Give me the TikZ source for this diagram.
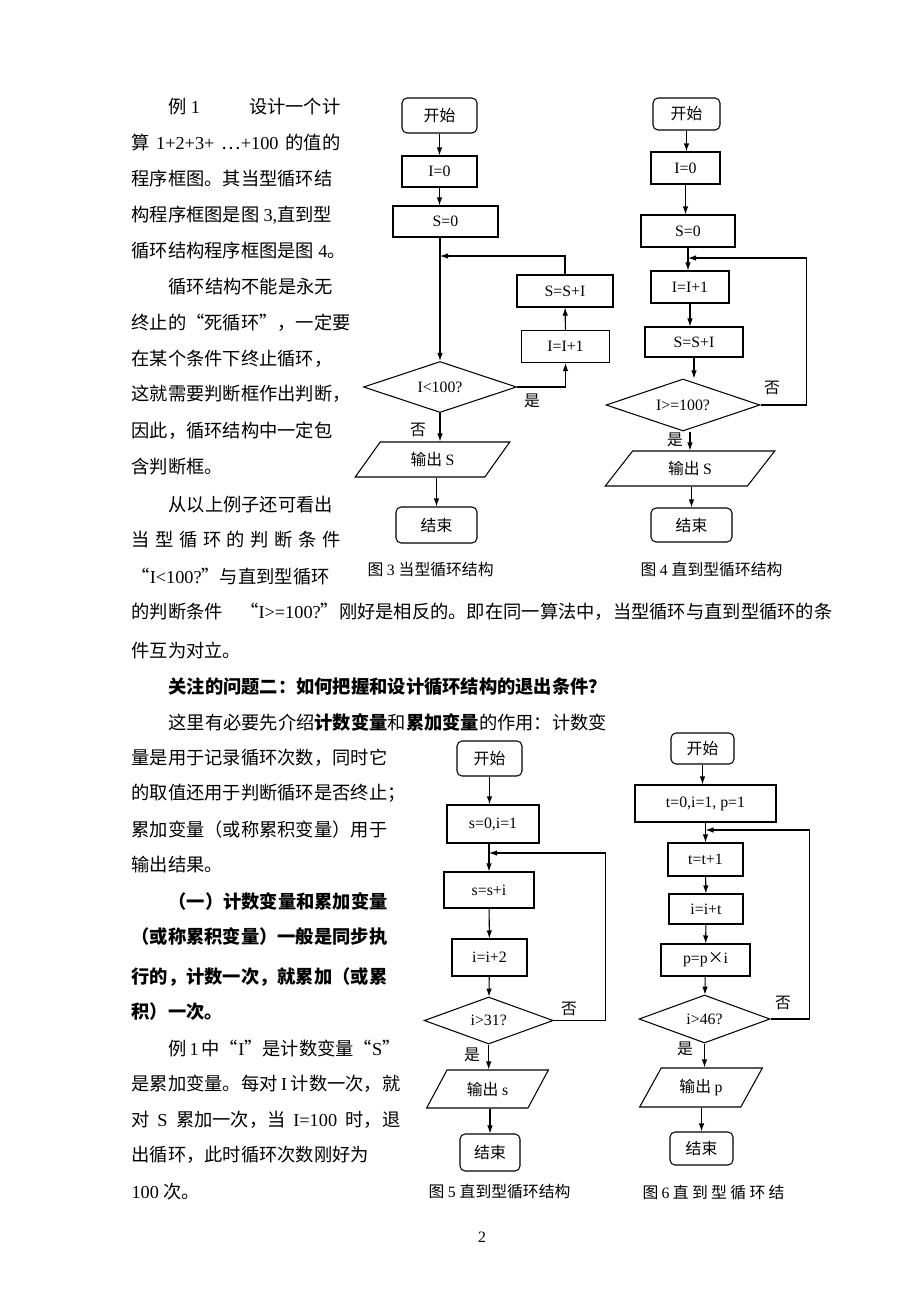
\documentclass[tikz,border=0pt]{standalone}
\usepackage{fontspec}
\setmainfont{Noto Sans CJK SC}
\newfontfamily\cjk{Noto Sans CJK SC}
\newfontfamily\lat{Liberation Serif}
\usetikzlibrary{arrows.meta, shapes.geometric}

% switch between the CJK and the Latin font by character class
\newXeTeXintercharclass\cjkcls
\newcount\cc
\newcommand\cjkrange[2]{\cc=#1 \loop\XeTeXcharclass\cc=\cjkcls\relax\ifnum\cc<#2 \advance\cc by 1 \repeat}
\cjkrange{"4E00}{"9FFF}
\cjkrange{"3000}{"303F}
\cjkrange{"FF00}{"FFEF}
\cjkrange{"2018}{"201D}
\cjkrange{"2026}{"2026}
\cjkrange{"22EF}{"22EF}
\cjkrange{"00D7}{"00D7}
\XeTeXinterchartoks 0 \cjkcls = {\cjk}
\XeTeXinterchartoks 4095 \cjkcls = {\cjk}
\XeTeXinterchartoks \cjkcls 0 = {\lat}
\XeTeXinterchartoks 4095 0 = {\lat}
\XeTeXinterchartokenstate=1
% full-width quotes
\newcommand\qo{\hbox to 1em{\hss “}}
\newcommand\qc{\hbox to 1em{”\hss}}

\begin{document}
\begin{tikzpicture}[x=0.02cm, y=-0.02cm, line width=0.6pt,
  txt/.style={anchor=west, inner sep=0pt, font=\fontsize{10.4pt}{12pt}\selectfont},
  btxt/.style={anchor=west, inner sep=0pt, font=\fontsize{10.4pt}{12pt}\selectfont\bfseries},
  lbl/.style={inner sep=0pt, font=\fontsize{9pt}{10pt}\selectfont},
  proc/.style={draw, rectangle, inner sep=1pt, font=\fontsize{9pt}{10pt}\selectfont},
  term/.style={proc, rounded corners=1mm},
  dec/.style={proc, diamond, aspect=3, inner sep=0pt},
  io/.style={proc, trapezium, trapezium left angle=58, trapezium right angle=122, trapezium stretches=true},
  flow/.style={-{Latex[length=1.6mm,width=1.1mm]}}]
\fill[white] (0,0) rectangle (920,1302);
\useasboundingbox (0,0) rectangle (920,1302);

% text, upper column
\node[txt] (t1) at (168,106.7) {\hbox to 3.44cm{例 1\hfill 设计一个计}};
\node[txt] (t2) at (131,142.3) {\hbox to 4.18cm{算 1+2+3+ ⋯+100 的值的}};
\node[txt] (t3) at (131,178.3) {程序框图。其当型循环结};
\node[txt] (t4) at (131,215) {构程序框图是图 3,直到型};
\node[txt] (t5) at (131,250.7) {循环结构程序框图是图 4。};
\node[txt] (t6) at (168,286.7) {循环结构不能是永无};
\node[txt] (t7) at (131,322.7) {终止的\qo 死循环\qc，一定要};
\node[txt] (t8) at (131,358.3) {在某个条件下终止循环，};
\node[txt] (t9) at (131,394) {这就需要判断框作出判断，};
\node[txt] (t10) at (131,430.7) {因此，循环结构中一定包};
\node[txt] (t11) at (131,466.7) {含判断框。};
\node[txt] (t12) at (168,505) {从以上例子还可看出};
\node[txt] (t13) at (131,540) {\hbox to 4.18cm{当 型 循 环 的 判 断 条 件}};
\node[txt] (t14) at (131,576.7) {\qo I<100?\qc 与直到型循环};

% text, full width
\node[txt] (t15) at (131,611.7) {\hbox to 14.02cm{的判断条件 \qo I>=100?\qc 刚好是相反的。即在同一算法中，当型循环与直到型循环的条}};
\node[txt] (t16) at (131,650) {件互为对立。};
\node[btxt] (t17) at (168,686.7) {关注的问题二：如何把握和设计循环结构的退出条件？};
\node[txt] (t18) at (168,722.7) {这里有必要先介绍\textbf{计数变量}和\textbf{累加变量}的作用：计数变};

% text, lower column
\node[txt] (t19) at (131,757.3) {量是用于记录循环次数，同时它};
\node[txt] (t20) at (131,793.3) {的取值还用于判断循环是否终止；};
\node[txt] (t21) at (131,830) {累加变量（或称累积变量）用于};
\node[txt] (t22) at (131,865) {输出结果。};
\node[btxt] (t23) at (168,901.7) {（一）计数变量和累加变量};
\node[btxt] (t24) at (131,936.7) {（或称累积变量）一般是同步执};
\node[btxt] (t25) at (131,976.7) {行的，计数一次，就累加（或累};
\node[btxt] (t26) at (131,1011.7) {积）一次。};
\node[txt] (t27) at (168,1048.3) {\hbox to 4.64cm{例 1 中\qo I\qc 是计数变量\qo S\qc}};
\node[txt] (t28) at (131,1084) {\hbox to 5.38cm{是累加变量。每对 I 计数一次，就}};
\node[txt] (t29) at (131,1120) {\hbox to 5.38cm{对 S 累加一次，当 I=100 时，退}};
\node[txt] (t30) at (131,1155) {出循环，此时循环次数刚好为};
\node[txt] (t31) at (131,1191.7) {100 次。};
\node[lbl] (pg) at (482,1237) {2};

% figure 3
\node[term, minimum width=1.5cm, minimum height=0.7cm] (s3) at (439.5,115.5) {开始};
\node[proc, minimum width=1.5cm, minimum height=0.62cm] (i3) at (439.5,171.5) {I=0};
\node[proc, minimum width=2.1cm, minimum height=0.62cm] (z3) at (445.5,221.5) {S=0};
\node[dec, minimum width=3.06cm, minimum height=1.02cm] (d3) at (440,387) {I<100?};
\node[proc, minimum width=1.92cm, minimum height=0.64cm] (b3) at (565,291) {S=S+I};
\node[proc, minimum width=1.76cm, minimum height=0.64cm] (a3) at (565.5,346.5) {I=I+1};
\node[io, minimum width=3.1cm, minimum height=0.7cm] (o3) at (432.5,459.5) {输出 S};
\node[term, minimum width=1.62cm, minimum height=0.72cm] (e3) at (436.5,525) {结束};
\coordinate (j3) at (440,256);
\node[lbl] (y3) at (532,401) {是};
\node[lbl] (n3) at (418,430) {否};
\node[lbl, anchor=west] (cap3) at (367,570) {图 3 当型循环结构};
\draw[flow] (s3) -- (i3);
\draw[flow] (i3.south) -- (i3.south |- z3.north);
\draw[flow] (d3.north |- z3.south) -- (d3.north);
\draw[flow] (d3.east) -| (a3.south);
\draw[flow] (a3) -- (b3);
\draw[flow] (b3.north) |- (j3);
\draw[flow] (d3.south) -- (d3.south |- o3.north);
\draw[flow] (e3.north |- o3.south) -- (e3.north);

% figure 4
\node[term, minimum width=1.34cm, minimum height=0.64cm] (s4) at (686.5,114) {开始};
\node[proc, minimum width=1.38cm, minimum height=0.64cm] (i4) at (685.5,168) {I=0};
\node[proc, minimum width=1.88cm, minimum height=0.64cm] (z4) at (688,231) {S=0};
\node[proc, minimum width=1.56cm, minimum height=0.64cm] (a4) at (690,287) {I=I+1};
\node[proc, minimum width=1.96cm, minimum height=0.6cm] (b4) at (694,342) {S=S+I};
\node[dec, minimum width=3.08cm, minimum height=1.04cm] (d4) at (683,405) {I>=100?};
\node[io, minimum width=3.4cm, minimum height=0.7cm] (o4) at (690,468.5) {输出 S};
\node[term, minimum width=1.62cm, minimum height=0.68cm] (e4) at (691.5,525) {结束};
\coordinate (j4) at (688,258);
\node[lbl] (n4) at (772,388) {否};
\node[lbl] (y4) at (675,440) {是};
\node[lbl, anchor=west] (cap4) at (640,570) {图 4 直到型循环结构};
\draw[flow] (s4.south) -- (s4.south |- i4.north);
\draw[flow] (i4.south) -- (i4.south |- z4.north);
\draw[flow] (z4.south) -- (z4.south |- a4.north);
\draw[flow] (a4.south) -- (a4.south |- b4.north);
\draw[flow] (b4.south) -- (b4.south |- d4.north);
\draw[flow] (d4.east) -- ++(46,0) |- (j4);
\draw[flow] (o4.north |- d4.south) -- (o4.north);
\draw[flow] (e4.north |- o4.south) -- (e4.north);

% figure 5
\node[term, minimum width=1.3cm, minimum height=0.7cm] (s5) at (489.5,758.5) {开始};
\node[proc, minimum width=1.84cm, minimum height=0.76cm] (i5) at (493,824) {s=0,i=1};
\node[proc, minimum width=1.8cm, minimum height=0.72cm] (a5) at (489,890) {s=s+i};
\node[proc, minimum width=1.5cm, minimum height=0.74cm] (b5) at (489.5,957.5) {i=i+2};
\node[dec, minimum width=2.58cm, minimum height=0.94cm] (d5) at (488.7,1020.5) {i>31?};
\node[io, minimum width=2.44cm, minimum height=0.76cm] (o5) at (487.5,1089) {输出 s};
\node[term, minimum width=1.2cm, minimum height=0.74cm] (e5) at (490,1152.5) {结束};
\coordinate (j5) at (489,853);
\node[lbl] (n5) at (569,1009) {否};
\node[lbl] (y5) at (472,1055) {是};
\node[lbl, anchor=west] (cap5) at (428,1192) {图 5 直到型循环结构};
\draw[flow] (s5.south) -- (s5.south |- i5.north);
\draw[flow] (a5.north |- i5.south) -- (a5.north);
\draw[flow] (a5) -- (b5);
\draw[flow] (b5) -- (d5);
\draw[flow] (d5.east) -- ++(52,0) |- (j5);
\draw[flow] (d5.south) -- (d5.south |- o5.north);
\draw[flow] (e5.north |- o5.south) -- (e5.north);

% figure 6
\node[term, minimum width=1.26cm, minimum height=0.62cm] (s6) at (702.5,748.5) {开始};
\node[proc, minimum width=2.82cm, minimum height=0.74cm] (i6) at (705.5,803.5) {t=0,i=1, p=1};
\node[proc, minimum width=1.5cm, minimum height=0.66cm] (a6) at (705.5,859.5) {t=t+1};
\node[proc, minimum width=1.48cm, minimum height=0.6cm] (b6) at (706,909) {i=i+t};
\node[proc, minimum width=1.78cm, minimum height=0.64cm] (c6) at (705.5,960) {p=p×i};
\node[dec, minimum width=2.62cm, minimum height=0.96cm] (d6) at (704.5,1019) {i>46?};
\node[io, minimum width=2.46cm, minimum height=0.78cm] (o6) at (701,1087.5) {输出 p};
\node[term, minimum width=1.26cm, minimum height=0.66cm] (e6) at (701.5,1148.5) {结束};
\coordinate (j6) at (705.5,830);
\node[lbl] (n6) at (783,1003) {否};
\node[lbl] (y6) at (685,1049) {是};
\node[lbl, anchor=west] (cap6) at (642,1193) {\hbox to 2.84cm{图\hfil 6\hfil 直\hfil 到\hfil 型\hfil 循\hfil 环\hfil 结}};
\draw[flow] (s6.south) -- (s6.south |- i6.north);
\draw[flow] (a6.north |- i6.south) -- (a6.north);
\draw[flow] (a6) -- (b6);
\draw[flow] (b6) -- (c6);
\draw[flow] (c6) -- (d6);
\draw[flow] (d6.east) -- ++(39,0) |- (j6);
\draw[flow] (d6.south) -- (d6.south |- o6.north);
\draw[flow] (e6.north |- o6.south) -- (e6.north);
\end{tikzpicture}
\end{document}
